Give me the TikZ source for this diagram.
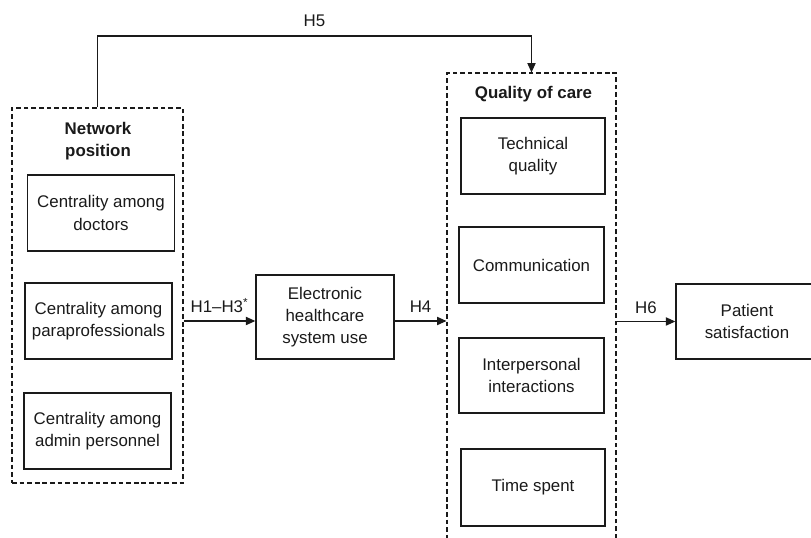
\documentclass[tikz,border=0pt]{standalone}
\usepackage{fontspec}
\setmainfont{Liberation Sans}
\usetikzlibrary{arrows.meta,positioning}
\definecolor{ink}{HTML}{1A1A1A}

\begin{document}
\begin{tikzpicture}[
  >={Triangle[length=8pt,width=7pt]},
  varbox/.style={draw=ink, line width=1.2pt, minimum width=4.4cm, minimum height=2.28cm, align=center, inner sep=0pt},
  grp/.style={draw=ink, line width=0.9pt, dash pattern=on 4pt off 2.5pt, inner sep=0pt},
  ttl/.style={font=\fontsize{14.4}{19}\selectfont\bfseries, align=center, text=ink},
  arr/.style={->, line width=1pt, color=ink},
  lbl/.style={text=ink},
  every node/.style={font=\fontsize{14.4}{19}\selectfont, text=ink},
]
\useasboundingbox (0,0) rectangle (24.33,16.14);
\clip (0,0) rectangle (24.33,16.14);

% network position group
\node[grp, minimum width=5.13cm, minimum height=11.25cm] (net) at (2.925,7.275) {};
\node[ttl] (nettitle) at (2.94,11.9) {Network\\position};
\node[varbox] (doctors) at (3.03,9.75) {Centrality among\\doctors};
\node[varbox] (para) at (2.955,6.51) {Centrality among\\paraprofessionals};
\node[varbox] (admin) at (2.925,3.21) {Centrality among\\admin personnel};

% system use
\node[varbox, minimum width=4.14cm, minimum height=2.52cm] (ehs) at (9.75,6.63) {Electronic\\healthcare\\system use};

% quality of care group
\node[grp, minimum width=5.07cm, minimum height=14.61cm] (qual) at (15.945,6.645) {};
\node[ttl] (qualtitle) at (16.005,13.32) {Quality of care};
\node[varbox, minimum width=4.32cm] (tech) at (15.99,11.46) {Technical\\quality};
\node[varbox, minimum width=4.35cm] (comm) at (15.945,8.19) {Communication};
\node[varbox, minimum width=4.35cm, minimum height=2.25cm] (inter) at (15.945,4.875) {Interpersonal\\interactions};
\node[varbox, minimum width=4.32cm, minimum height=2.31cm] (time) at (15.99,1.515) {Time spent};

% outcome
\node[varbox, minimum width=4.26cm, minimum height=2.25cm] (sat) at (22.41,6.495) {Patient\\satisfaction};

\coordinate (h5top) at (0,15.06);

\draw[arr] (para -| net.east) -- node[lbl, above=3pt] {H1--H3\textsuperscript{*}} (para -| ehs.west);
\draw[arr] (para -| ehs.east) -- node[lbl, above=3pt] {H4} (para -| qual.west);
\draw[arr] (qual.east |- sat) -- node[lbl, above=3pt] {H6} (sat.west);
\draw[arr] (net.north) -- (net.north |- h5top) -| node[lbl, above=4pt, pos=0.25] {H5} (qual.north);

\end{tikzpicture}
\end{document}
